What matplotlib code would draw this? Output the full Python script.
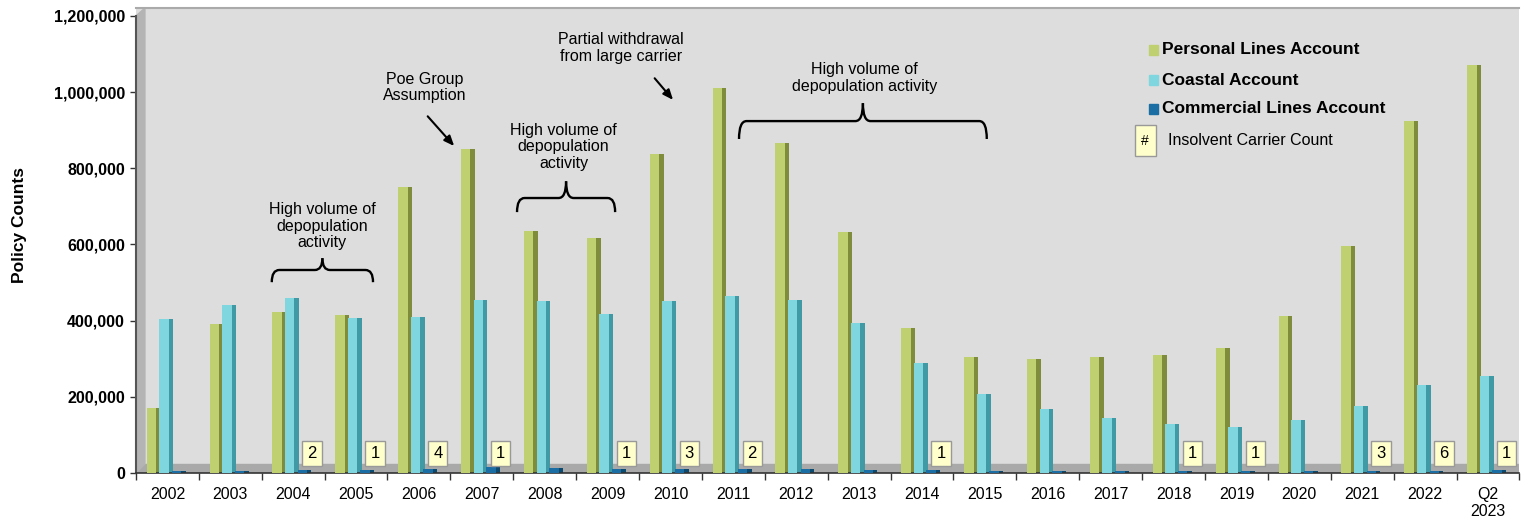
import numpy as np
import matplotlib
matplotlib.use("Agg")
import matplotlib.pyplot as plt
from matplotlib.patches import Polygon, Rectangle, PathPatch
from matplotlib.path import Path
from matplotlib.ticker import FuncFormatter

plt.rcParams['font.family'] = ['Liberation Sans', 'DejaVu Sans']

years = ["2002", "2003", "2004", "2005", "2006", "2007", "2008", "2009", "2010", "2011",
         "2012", "2013", "2014", "2015", "2016", "2017", "2018", "2019", "2020", "2021",
         "2022", "Q2\n2023"]
personal = [170000, 390000, 422000, 415000, 750000, 852000, 635000, 617000, 837000, 1010000,
            867000, 633000, 380000, 305000, 298000, 305000, 310000, 328000, 413000, 597000,
            923000, 1072000]
coastal = [405000, 440000, 460000, 407000, 410000, 453000, 452000, 417000, 452000, 466000,
           453000, 393000, 288000, 207000, 167000, 145000, 128000, 122000, 140000, 175000,
           232000, 255000]
commercial = [6000, 6000, 7000, 7000, 11000, 16000, 13000, 11000, 11000, 11000,
              11000, 9000, 7000, 6000, 5000, 4000, 5000, 5000, 6000, 6000,
              6000, 7000]
insolvent = {"2004": 2, "2005": 1, "2006": 4, "2007": 1, "2009": 1, "2010": 3, "2011": 2,
             "2014": 1, "2018": 1, "2019": 1, "2021": 3, "2022": 6, "Q2\n2023": 1}

series = [
    (personal, "#bfd071", "#7e8c3c", "Personal Lines Account"),
    (coastal, "#80d6de", "#3f9aa6", "Coastal Account"),
    (commercial, "#1a6ea3", "#0d4a70", "Commercial Lines Account"),
]

fig = plt.figure(figsize=(15.24, 5.18), dpi=100)
ax = fig.add_axes([0.0892, 0.0869, 0.9078, 0.8977])
ax.set_facecolor("#dddddd")

x = np.arange(len(years))
ymax = 1221000

# floor and left wall of the 3d frame
ax.axhspan(0, 24000, color="#a9a9a9", zorder=1)
ax.add_patch(Polygon([(-0.5, 0), (-0.5, 1200000), (-0.357, ymax), (-0.357, 24000)],
                     closed=True, color="#b4b4b4", zorder=1))

front_w = 0.15
side_w = 0.07
offsets = [-0.33, -0.13, 0.07]
for (vals, col, dark, name), off in zip(series, offsets):
    ax.bar(x + off + 0.02, vals, width=front_w + side_w - 0.02, align="edge", color=dark,
           zorder=2, linewidth=0)
    ax.bar(x + off, vals, width=front_w, align="edge", color=col, zorder=3, linewidth=0)

# insolvent carrier boxes
for i, lab in enumerate(years):
    if lab in insolvent:
        ax.text(i + 0.3, 52000, str(insolvent[lab]), ha="center", va="center", fontsize=12,
                zorder=5, bbox=dict(boxstyle="square,pad=0.3", fc="#ffffcc", ec="#999999", lw=1))


def brace(x0, x1, yh, ytip, ypeak):
    xm = (x0 + x1) / 2
    r = 0.12
    left = [(x0, ytip), (x0, yh), (x0 + r, yh), (xm - r, yh), (xm, yh), (xm, ypeak)]
    right = [(xm, ypeak), (xm, yh), (xm + r, yh), (x1 - r, yh), (x1, yh), (x1, ytip)]
    codes = [Path.MOVETO, Path.CURVE3, Path.CURVE3, Path.LINETO, Path.CURVE3, Path.CURVE3]
    for v in (left, right):
        ax.add_patch(PathPatch(Path(v, codes), fill=False, lw=1.7, ec="black", zorder=6))


brace(1.66, 3.27, 533000, 501000, 564000)
brace(5.56, 7.12, 722000, 685000, 766000)
brace(9.09, 13.03, 924000, 877000, 971000)

afont = dict(fontsize=11.5, ha="center", va="center", zorder=6, linespacing=1.1)
ax.text(2.46, 648000, "High volume of\ndepopulation\nactivity", **afont)
ax.text(6.30, 856000, "High volume of\ndepopulation\nactivity", **afont)
ax.text(11.09, 1037000, "High volume of\ndepopulation activity", **afont)
ax.text(4.09, 1013000, "Poe Group\nAssumption", **afont)
ax.text(7.21, 1116000, "Partial withdrawal\nfrom large carrier", **afont)
ax.annotate("", xy=(4.59, 853000), xytext=(4.11, 942000),
            arrowprops=dict(arrowstyle="-|>,head_length=0.6,head_width=0.25", lw=1.5, color="black"))
ax.annotate("", xy=(8.07, 974000), xytext=(7.72, 1042000),
            arrowprops=dict(arrowstyle="-|>,head_length=0.6,head_width=0.25", lw=1.5, color="black"))

# legend drawn by hand
ly = [0.9097, 0.845, 0.783]
for (vals, col, dark, name), yy in zip(series, ly):
    ax.add_patch(Rectangle((0.732, yy - 0.01), 0.0065, 0.02, transform=ax.transAxes,
                           color=col, zorder=7, clip_on=False))
    ax.text(0.742, yy, name, transform=ax.transAxes, fontsize=12.5, fontweight="bold",
            va="center", ha="left", zorder=7)
ax.add_patch(Rectangle((0.7218, 0.6817), 0.0152, 0.0667, transform=ax.transAxes,
                       fc="#ffffcc", ec="#999999", lw=1, zorder=7))
ax.text(0.7294, 0.715, "#", transform=ax.transAxes, fontsize=10, ha="center", va="center",
        zorder=8)
ax.text(0.7457, 0.715, "Insolvent Carrier Count", transform=ax.transAxes, fontsize=11.5,
        va="center", ha="left", zorder=7)

ax.set_xlim(-0.5, len(years) - 0.5)
ax.set_ylim(0, ymax)
ax.set_xticks(x)
ax.set_xticklabels(years, fontsize=11.5, linespacing=1.15)
ax.set_xticks(np.arange(-0.5, len(years) + 0.5, 1), minor=True)
ax.tick_params(axis="x", which="major", length=0, pad=10)
ax.tick_params(axis="x", which="minor", length=5, width=1, color="#333333")
ax.set_yticks(np.arange(0, 1200001, 200000))
ax.yaxis.set_major_formatter(FuncFormatter(lambda v, p: "{:,.0f}".format(v)))
for t in ax.get_yticklabels():
    t.set_fontweight("bold")
    t.set_fontsize(11.5)
ax.tick_params(axis="y", length=4, width=1, color="#333333", pad=4)

ax.spines["left"].set_bounds(0, 1200000)
ax.spines["left"].set_color("#555555")
ax.spines["left"].set_linewidth(1.5)
ax.spines["bottom"].set_color("#333333")
ax.spines["bottom"].set_linewidth(1.2)
ax.spines["right"].set_visible(False)
ax.spines["top"].set_color("#aaaaaa")
ax.spines["top"].set_linewidth(1.5)

fig.text(20 / 1524, 0.566, "Policy Counts", rotation=90, fontsize=12.5, fontweight="bold",
         ha="center", va="center")

fig.savefig("out.png", dpi=100)
